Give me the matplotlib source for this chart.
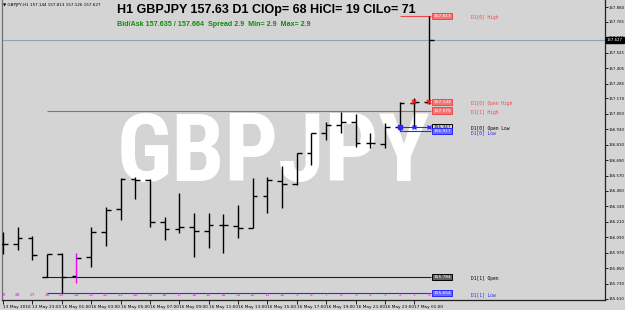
import matplotlib
matplotlib.use('Agg')
import matplotlib.pyplot as plt

# H1 bars, oldest first (shift 29 .. 0)
opens  = [156.038, 156.038, 156.084, 155.784, 155.960, 155.789, 155.937, 156.131,
          156.310, 156.543, 156.535, 156.209, 156.154, 156.170, 156.139, 156.185,
          156.178, 156.162, 156.411, 156.527, 156.504, 156.745, 156.900, 156.963,
          156.986, 156.823, 156.815, 156.947, 157.134, 157.144]
highs  = [156.131, 156.170, 156.100, 155.960, 155.965, 155.968, 156.170, 156.325,
          156.551, 156.558, 156.540, 156.247, 156.434, 156.279, 156.279, 156.271,
          156.341, 156.551, 156.558, 156.644, 156.745, 156.900, 156.986, 157.064,
          157.048, 156.900, 156.978, 157.144, 157.173, 157.813]
lows   = [155.960, 155.991, 155.913, 155.780, 155.654, 155.734, 155.859, 156.022,
          156.224, 156.387, 156.170, 156.069, 156.123, 155.937, 156.006, 155.968,
          156.084, 156.160, 156.279, 156.317, 156.496, 156.652, 156.846, 156.900,
          156.792, 156.784, 156.784, 156.917, 156.947, 157.126]
closes = [156.038, 156.084, 155.952, 155.960, 155.781, 155.929, 156.131, 156.302,
          156.543, 156.535, 156.209, 156.154, 156.170, 156.139, 156.185, 156.185,
          156.162, 156.411, 156.535, 156.504, 156.745, 156.900, 156.963, 156.986,
          156.823, 156.823, 156.947, 157.134, 157.144, 157.627]
shift_labels = [str(s) for s in range(29, -1, -1)]
special_bar = 5

time_label_bars = list(range(0, 30, 2))
time_labels = ["13 May 2016", "13 May 23:00", "16 May 01:00", "16 May 03:00",
               "16 May 05:00", "16 May 07:00", "16 May 09:00", "16 May 11:00",
               "16 May 13:00", "16 May 15:00", "16 May 17:00", "16 May 19:00",
               "16 May 21:00", "16 May 23:00", "17 May 01:00"]

price_ticks = [157.880, 157.765, 157.645, 157.525, 157.405, 157.285, 157.170,
               157.050, 156.930, 156.810, 156.690, 156.570, 156.450, 156.330,
               156.210, 156.090, 155.970, 155.850, 155.730, 155.610]

last_price = 157.627
d1_high, d1_open_high, d1_open_low, d1_low = 157.813, 157.144, 156.947, 156.917
d1_prev_high, d1_prev_open, d1_prev_low = 157.075, 155.784, 155.654

title = "H1 GBPJPY 157.63 D1 ClOp= 68 HiCl= 19 ClLo= 71"
subtitle = "Bid/Ask 157.635 / 157.664  Spread 2.9  Min= 2.9  Max= 2.9"
corner = "\u25bc GBPJPY,H1 157.144 157.813 157.126 157.627"

BG = '#d4d4d4'
RED = '#f04848'
BLUE = '#2828ff'
DX = 14.69          # pixels per bar
PY = 0.007774       # price per pixel
SMALL = 3.1


def px_x(px):
    return (px - 3) / DX


def px_y(py):
    return 155.61 + (299 - py) * PY


fig = plt.figure(figsize=(6.25, 3.1), dpi=100, facecolor=BG)
ax = fig.add_axes([2 / 625, 10 / 310, 603 / 625, 300 / 310], facecolor=BG)
ax.set_xlim(px_x(2), px_x(605))
ax.set_ylim(px_y(300), px_y(0))

ax.spines['top'].set_visible(False)
for s in ['left', 'right', 'bottom']:
    ax.spines[s].set_color('#202020')
    ax.spines[s].set_linewidth(0.9)
ax.spines['left'].set_color('#707070')

# watermark
ax.text(px_x(273), px_y(155), "GBPJPY", color='white', fontsize=68,
        fontweight='heavy', fontstretch='condensed',
        family=['Roboto Condensed', 'DejaVu Sans Condensed', 'Roboto'],
        ha='center', va='center', zorder=0)

# bars
idx = list(range(len(opens)))
cols = ['#ff00ff' if i == special_bar else 'black' for i in idx]
ax.vlines(idx, lows, highs, colors=cols, lw=1.0, zorder=3)
ax.hlines(opens, [i - 0.32 for i in idx], idx, colors='black', lw=1.0, zorder=3)
ax.hlines(closes, idx, [i + 0.32 for i in idx], colors='black', lw=1.0, zorder=3)

# current price line
ax.axhline(last_price, color='#8aa4b8', lw=0.8, zorder=1)

# daily levels
end = px_x(431)
ax.hlines(d1_prev_high, 3, end, colors=RED, lw=0.8, zorder=2)
ax.hlines(d1_prev_open, 2.65, end, colors='#202020', lw=0.8, zorder=2)
ax.hlines(d1_prev_low, 3, end, colors=BLUE, lw=0.8, zorder=2)
ax.hlines(d1_high, 27, end, colors=RED, lw=0.8, zorder=2)
ax.hlines([d1_open_low, d1_low], 27, end, colors=BLUE, lw=0.8, zorder=4)
ax.vlines(27, d1_low, d1_open_low, colors=BLUE, lw=0.8, zorder=4)
ax.plot([27], [d1_open_low], 's', color=BLUE, ms=3, zorder=5)
ax.plot([28, 29], [d1_open_low, d1_open_low], 'x', color=BLUE, ms=3, mew=1, zorder=5)
ax.plot([28, 29], [d1_open_high, d1_open_high], 'x', color='#ff1010', ms=3.5, mew=1.2, zorder=5)

boxes = [
    (d1_high, '157.813', '#f07878', RED, 'white'),
    (d1_open_high, '157.144', '#f07878', RED, 'white'),
    (d1_prev_high, '157.075', '#f07878', RED, 'white'),
    (d1_open_low, '156.947', '#d4d4d4', 'black', 'black'),
    (d1_low, '156.917', '#6a6aff', BLUE, 'white'),
    (d1_prev_open, '155.784', '#606060', 'black', 'white'),
    (d1_prev_low, '155.654', '#6a6aff', BLUE, 'white'),
]
for val, txt, fc, ec, tc in boxes:
    ax.text(px_x(433), val, txt, fontsize=SMALL, color=tc, ha='left', va='center',
            zorder=6, bbox=dict(boxstyle='square,pad=0.25', fc=fc, ec=ec, lw=0.7))

names = [
    (d1_high, 'D1[0] High', RED),
    (d1_open_high, 'D1[0] Open High', RED),
    (d1_prev_high, 'D1[1] High', RED),
    (d1_open_low, 'D1[0] Open Low', 'black'),
    (d1_low, 'D1[0] Low', BLUE),
    (d1_prev_open, 'D1[1] Open', 'black'),
    (d1_prev_low, 'D1[1] Low', BLUE),
]
for val, txt, c in names:
    ax.text(px_x(471), val - 0.012, txt, fontsize=3.3, color=c, family='DejaVu Sans Mono',
            ha='left', va='center', zorder=6)

# shift numbers
for i, lab in zip(idx, shift_labels):
    ax.text(i, px_y(295), lab, fontsize=SMALL, color='#ff00ff', ha='center',
            va='center', zorder=6, clip_on=True)

# axes ticks
ax.yaxis.tick_right()
ax.set_yticks(price_ticks, [f"{v:.3f}" for v in price_ticks], fontsize=2.8)
ax.tick_params(axis='y', length=2.2, width=0.6, pad=0.6, colors='black')
ax.set_xticks(time_label_bars, time_labels, fontsize=SMALL)
ax.tick_params(axis='x', length=3, width=0.6, pad=0.5, colors='black')
for lbl in ax.get_xticklabels():
    lbl.set_ha('left')

ax.text(1.003, last_price, f"{last_price:.3f}", transform=ax.get_yaxis_transform(),
        fontsize=2.8, color='white', ha='left', va='center', clip_on=False, zorder=7,
        bbox=dict(boxstyle='square,pad=0.25', fc='black', ec='black'))

# header texts
fig.text(117 / 625, 1 - 10 / 310, title, fontsize=9, fontweight='bold',
         family='Liberation Sans', ha='left', va='center', color='black')
fig.text(117 / 625, 1 - 24.5 / 310, subtitle, fontsize=5.1, fontweight='bold',
         family='Liberation Sans', ha='left', va='center', color='#108a10')
fig.text(3 / 625, 1 - 5 / 310, corner, fontsize=3.0, family='DejaVu Sans',
         ha='left', va='center', color='black')

fig.savefig('out.png', dpi=100, facecolor=BG)
